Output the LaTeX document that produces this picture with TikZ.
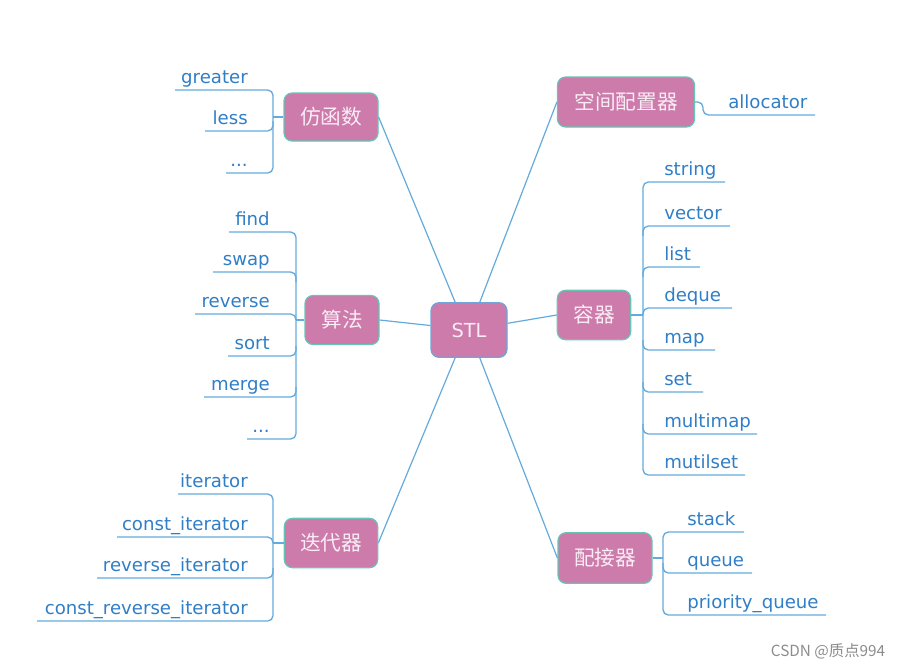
\documentclass[tikz,border=0pt]{standalone}
\usepackage{fontspec}
\usetikzlibrary{calc}
\setmainfont{DejaVu Sans}
\newfontfamily\cjk{Noto Sans CJK SC}
\newcommand\leafdots{...}
\definecolor{boxfill}{RGB}{204,123,171}
\definecolor{boxedge}{RGB}{104,196,180}
\definecolor{stledge}{RGB}{110,166,220}
\definecolor{linec}{RGB}{100,170,220}
\definecolor{leaftext}{RGB}{48,126,198}
\definecolor{boxtext}{RGB}{250,236,245}
\begin{document}
\begin{tikzpicture}[x=0.75pt,y=-0.75pt,
  topic/.style={draw=boxedge,line width=0.9pt,fill=boxfill,rounded corners=6pt,
    text=boxtext,font=\cjk\fontsize{15.5}{18}\selectfont,inner sep=0pt},
  leaf/.style={text=leaftext,font=\fontsize{13.6}{16}\selectfont,inner sep=0pt},
  br/.style={draw=linec,line width=1pt,rounded corners=4pt},
  conn/.style={draw=linec,line width=0.9pt}]
\useasboundingbox (0,0) rectangle (899,669);

% main topics
\node[topic,draw=stledge,minimum width=57pt,minimum height=41pt,font=\fontsize{14.5}{18}\selectfont] (stl) at (469,330) {STL};
\node[topic,minimum width=70.5pt,minimum height=36pt] (fang) at (331,117) {仿函数};
\node[topic,minimum width=102.75pt,minimum height=37.5pt] (kong) at (626,102) {空间配置器};
\node[topic,minimum width=55.5pt,minimum height=36.75pt] (suan) at (342,320) {算法};
\node[topic,minimum width=55pt,minimum height=37pt] (rong) at (594,315) {容器};
\node[topic,minimum width=70pt,minimum height=37pt] (die) at (331,543) {迭代器};
\node[topic,minimum width=70.5pt,minimum height=38pt] (pei) at (605,558) {配接器};

% connectors to STL
\draw[conn] (fang.east) -- ($(stl.north west)!0.32!(stl.north east)$);
\draw[conn] (kong.west) -- ($(stl.north west)!0.64!(stl.north east)$);
\draw[conn] (suan.east) -- ($(stl.north west)!0.42!(stl.south west)$);
\draw[conn] (rong.west) -- ($(stl.north east)!0.38!(stl.south east)$);
\draw[conn] (die.east) -- ($(stl.south west)!0.32!(stl.south east)$);
\draw[conn] (pei.west) -- ($(stl.south west)!0.64!(stl.south east)$);

% 仿函数 group
\coordinate (fangb) at (273,117);
\draw[conn] (fang.west) -- (fangb);
\draw[br] (175,90) -- (273,90) -- (273,173) -- (226,173);
\draw[br] (205,131) -- (273,131) -- (273,121);
\foreach \y/\t [count=\i] in {90/greater,131/less,173/\leafdots}
  \node[leaf,anchor=base east] (fl\i) at (248,\y-7) {\t};

% 算法 group
\coordinate (suanb) at (296,320);
\draw[conn] (suan.west) -- (suanb);
\draw[br] (229,232) -- (296,232) -- (296,439) -- (247,439);
\foreach \y/\l/\d in {272/213/10,314/195/6,356/228/-10,397/204/-10}
  \draw[br] (\l,\y) -- (296,\y) -- (296,\y+\d);
\foreach \y/\t [count=\i] in {232/find,272/swap,314/reverse,356/sort,397/merge,439/\leafdots}
  \node[leaf,anchor=base east] (sl\i) at (270,\y-7) {\t};

% 迭代器 group
\coordinate (dieb) at (273,543);
\draw[conn] (die.west) -- (dieb);
\draw[br] (178,494) -- (273,494) -- (273,621) -- (37,621);
\foreach \y/\l/\d in {537/117/6,578/97/-10}
  \draw[br] (\l,\y) -- (273,\y) -- (273,\y+\d);
\foreach \y/\t [count=\i] in {494/iterator,537/const\_iterator,578/reverse\_iterator,621/const\_reverse\_iterator}
  \node[leaf,anchor=base east] (dl\i) at (248,\y-7) {\t};

% 容器 group
\coordinate (rongb) at (643,315);
\draw[conn] (rong.east) -- (rongb);
\draw[br] (725,182) -- (643,182) -- (643,475) -- (745,475);
\foreach \y/\r/\d in {226/730/10,267/700/10,308/732/7,350/715/-10,392/703/-10,434/757/-10}
  \draw[br] (\r,\y) -- (643,\y) -- (643,\y+\d);
\foreach \y/\t [count=\i] in {182/string,226/vector,267/list,308/deque,350/map,392/set,434/multimap,475/mutilset}
  \node[leaf,anchor=base west] (rl\i) at (664,\y-7) {\t};

% 配接器 group
\coordinate (peib) at (663,558);
\draw[conn] (pei.east) -- (peib);
\draw[br] (744,532) -- (663,532) -- (663,615) -- (826,615);
\draw[br] (752,573) -- (663,573) -- (663,563);
\foreach \y/\t [count=\i] in {532/stack,573/queue,615/priority\_queue}
  \node[leaf,anchor=base west] (pl\i) at (687,\y-7) {\t};

% 空间配置器 group
\coordinate (kongb) at (815,115);
\draw[br] (kong.east) -- (703,102) -- (703,115) -- (kongb);
\node[leaf,anchor=base west] (kl1) at (728,108) {allocator};

% watermark
\node[text=black!45,font=\cjk\fontsize{11.5}{13}\selectfont,inner sep=0pt] (wm) at (828,651) {CSDN @质点994};
\end{tikzpicture}
\end{document}
